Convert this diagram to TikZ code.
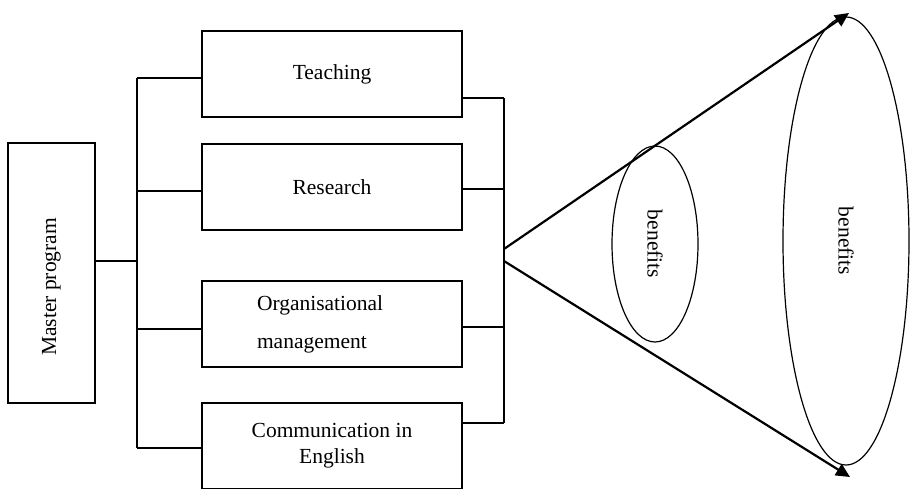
\documentclass[tikz,border=0pt]{standalone}
\usepackage{fontspec}
\setmainfont{Liberation Serif}
\usetikzlibrary{shapes.geometric,arrows.meta}

\begin{document}
\begin{tikzpicture}[x=1pt,y=-1pt,
   every node/.style={font=\fontsize{21.5}{26}\selectfont},
   box/.style={draw,line width=1.3pt,minimum width=260pt,minimum height=86pt,inner sep=0pt},
   wire/.style={line width=1.3pt},
   cone/.style={line width=2.2pt,-{Triangle[length=14pt,width=13pt]}},
   blob/.style={draw,ellipse,line width=1.2pt,rotate=-90,inner sep=0pt}]
   \useasboundingbox (0,0) rectangle (911,488);

   \node[box,rotate=90,minimum height=87pt] (master) at (51.5,273) {\hspace*{-28pt}Master program};
   \node[box] (teach) at (332,74) {Teaching};
   \node[box] (res) at (332,187) {Research};
   \node[box,text width=150pt,align=left] (org) at (332,324) {Organisational\\[12pt]management};
   \node[box,align=center] (comm) at (332,446) {Communication in\\English};

   \node[blob,minimum width=196pt,minimum height=86pt] (small) at (655,244) {benefits};
   \node[blob,minimum width=448pt,minimum height=126pt] (big) at (846,241) {benefits};

   % left bus
   \coordinate (lbus) at (137,261);
   \coordinate (l1) at (137,78);
   \coordinate (l2) at (137,191);
   \coordinate (l3) at (137,329);
   \coordinate (l4) at (137,448);
   % right bus
   \coordinate (r1) at (504,98);
   \coordinate (r2) at (504,189);
   \coordinate (r3) at (504,327);
   \coordinate (r4) at (504,423);
   % cone
   \coordinate (upa) at (504,249);
   \coordinate (lowa) at (504,261);
   \coordinate (upb) at (849,13);
   \coordinate (lowb) at (850,477);

   \draw[wire] (master.south |- lbus) -- (lbus);
   \draw[wire] (l1) -- (l4);
   \draw[wire] (l1) -- (l1 -| teach.west);
   \draw[wire] (l2) -- (l2 -| res.west);
   \draw[wire] (l3) -- (l3 -| org.west);
   \draw[wire] (l4) -- (l4 -| comm.west);

   \draw[wire] (r1) -- (r4);
   \draw[wire] (teach.east |- r1) -- (r1);
   \draw[wire] (res.east |- r2) -- (r2);
   \draw[wire] (org.east |- r3) -- (r3);
   \draw[wire] (comm.east |- r4) -- (r4);

   \draw[cone] (upa) -- (upb);
   \draw[cone] (lowa) -- (lowb);

\end{tikzpicture}
\end{document}
